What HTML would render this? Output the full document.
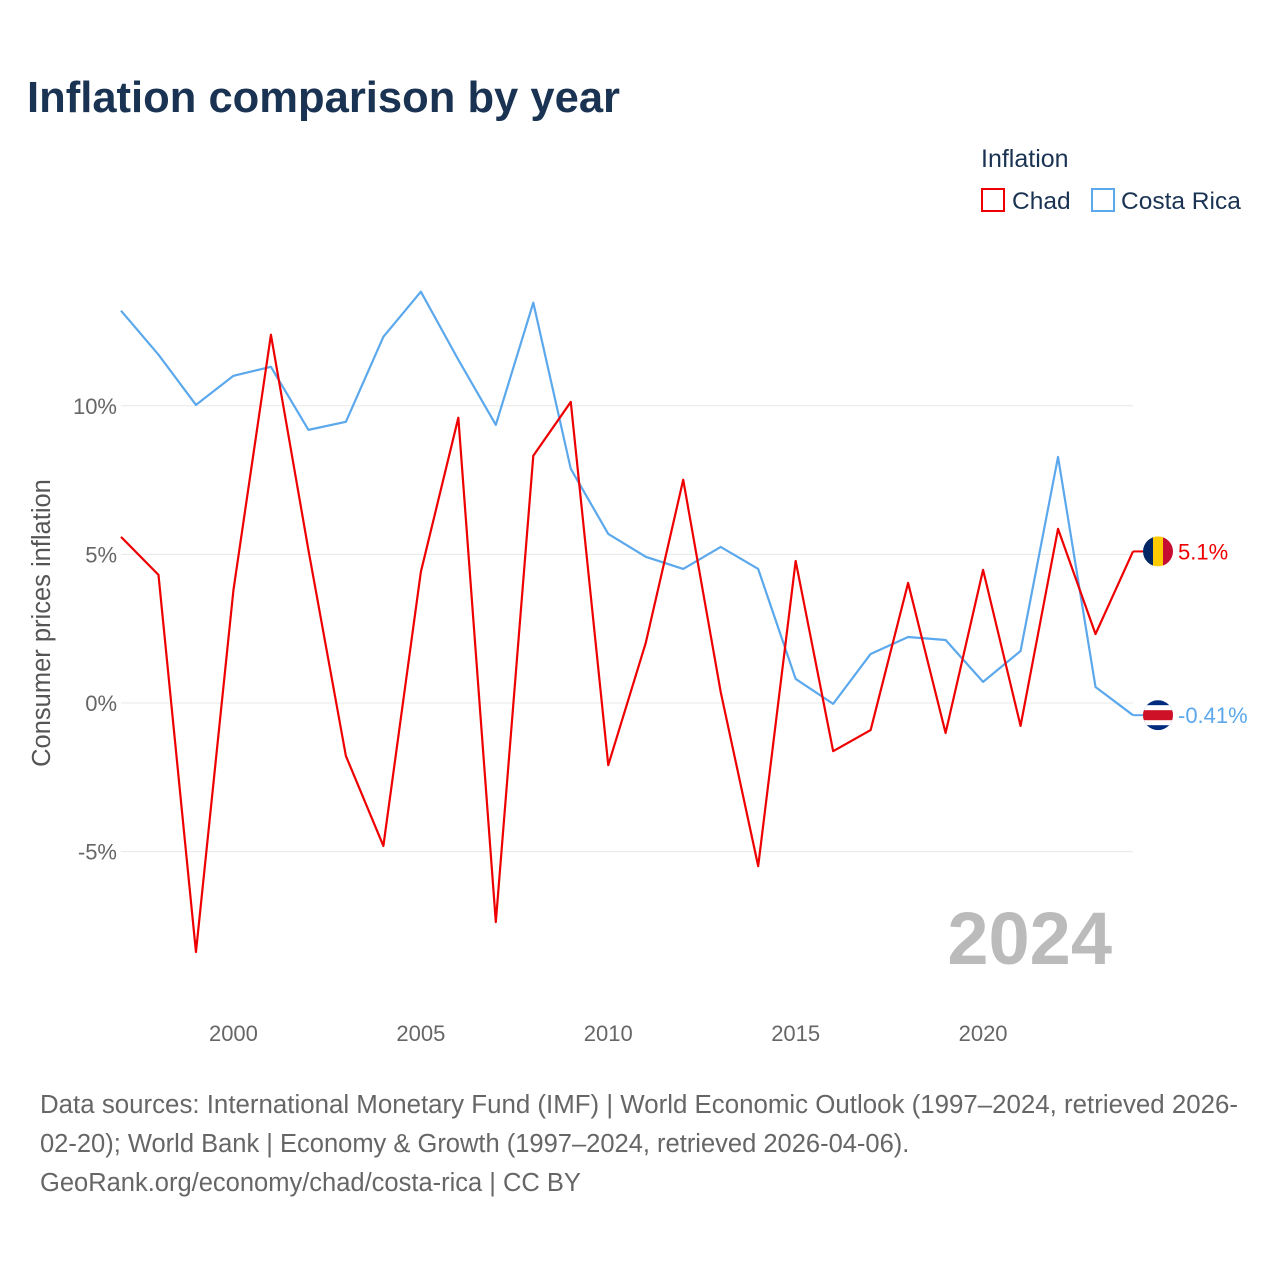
<!DOCTYPE html>
<html><head><meta charset="utf-8">
<style>
body{margin:0;background:#fff;font-family:"Liberation Sans",sans-serif;}
#wrap{position:relative;width:1280px;height:1280px;overflow:hidden;}
</style></head>
<body>
<div id="wrap">
<svg id="chart" width="1280" height="1280" xmlns="http://www.w3.org/2000/svg">
<text x="27" y="112" font-size="44" font-weight="bold" fill="#1a3353" textLength="593" lengthAdjust="spacingAndGlyphs">Inflation comparison by year</text>
<text x="981" y="167" font-size="25" fill="#1a3353">Inflation</text>
<g><rect x="982" y="189" width="22" height="22" fill="none" stroke="#ee0000" stroke-width="2"/><text x="1012" y="209" font-size="24.5" fill="#1a3353">Chad</text></g>
<g><rect x="1092" y="189" width="22" height="22" fill="none" stroke="#5ba8ec" stroke-width="2"/><text x="1121" y="209" font-size="24.5" fill="#1a3353">Costa Rica</text></g>
<text transform="translate(50,623) rotate(-90)" text-anchor="middle" font-size="25.5" fill="#555">Consumer prices inflation</text>
<g id="grid"></g><g id="yticks"></g><g id="xticks"></g>
<text x="1112" y="964" text-anchor="end" font-size="74" font-weight="bold" fill="#bbbbbb">2024</text>
<g id="lines"></g>
<text x="40" y="1113" font-size="25.5" fill="#666" textLength="1198" lengthAdjust="spacingAndGlyphs">Data sources: International Monetary Fund (IMF) | World Economic Outlook (1997–2024, retrieved 2026-</text>
<text x="40" y="1152" font-size="25.5" fill="#666">02-20); World Bank | Economy &amp; Growth (1997–2024, retrieved 2026-04-06).</text>
<text x="40" y="1191" font-size="25.5" fill="#666">GeoRank.org/economy/chad/costa-rica | CC BY</text>
</svg>
</div>
<script>
const years=[1997,1998,1999,2000,2001,2002,2003,2004,2005,2006,2007,2008,2009,2010,2011,2012,2013,2014,2015,2016,2017,2018,2019,2020,2021,2022,2023,2024];
const chad=[5.59,4.31,-8.38,3.8,12.39,5.15,-1.78,-4.81,4.41,9.6,-7.37,8.32,10.13,-2.09,2.02,7.51,0.37,-5.49,4.78,-1.62,-0.91,4.04,-1.01,4.48,-0.77,5.86,2.32,5.1];
const costaRica=[13.2,11.72,10.03,11.01,11.31,9.19,9.46,12.32,13.84,11.55,9.36,13.47,7.88,5.69,4.92,4.51,5.25,4.51,0.81,-0.03,1.65,2.22,2.12,0.71,1.75,8.28,0.54,-0.41];
const yTickVals=[-5,0,5,10];
const yTickLabels=["-5%","0%","5%","10%"];
const xTickVals=[2000,2005,2010,2015,2020];
const NS="http://www.w3.org/2000/svg";
const xS=y=>121+(y-1997)*(1133-121)/27;
const yS=v=>703-v*29.72;
function mk(tag,attrs,parent){const e=document.createElementNS(NS,tag);for(const k in attrs)e.setAttribute(k,attrs[k]);parent.appendChild(e);return e;}
const grid=document.getElementById('grid'),yt=document.getElementById('yticks'),xt=document.getElementById('xticks'),lines=document.getElementById('lines');
yTickVals.forEach((v,i)=>{
  const l=mk('line',{x1:121,x2:1133,y1:yS(v),y2:yS(v),stroke:'#e8e8e8','stroke-width':1},grid);
  
  
  const t=mk('text',{x:117,y:yS(v)+8,'text-anchor':'end','font-size':22,fill:'#666'},yt);
  t.textContent=yTickLabels[i];
  
  
});
xTickVals.forEach(v=>{
  const t=mk('text',{x:xS(v),y:1041,'text-anchor':'middle','font-size':22,fill:'#666'},xt);
  t.textContent=v;
  
  
});
function series(vals,color,name){
  const p=mk('polyline',{points:vals.map((v,i)=>xS(years[i])+','+yS(v)).join(' '),fill:'none',stroke:color,'stroke-width':2.2,'stroke-linejoin':'round'},lines);
  
  
}
series(costaRica,'#5ba8ec','costa-rica');
series(chad,'#ee0000','chad');
const lastC=chad[chad.length-1],lastR=costaRica[costaRica.length-1];
const fx=1158;
(function(){
  const g=mk('g',{},lines);
  
  
  const cy=yS(lastC);
  mk('line',{x1:1133,y1:cy,x2:1143,y2:cy,stroke:'#ee0000','stroke-width':2},g);
  const cp=mk('clipPath',{id:'cc'},g);mk('circle',{cx:fx,cy:cy,r:15},cp);
  const f=mk('g',{'clip-path':'url(#cc)'},g);
  mk('rect',{x:fx-15,y:cy-15,width:10,height:30,fill:'#002664'},f);
  mk('rect',{x:fx-5,y:cy-15,width:10,height:30,fill:'#fecb00'},f);
  mk('rect',{x:fx+5,y:cy-15,width:10,height:30,fill:'#c60c30'},f);
  const t=mk('text',{x:1178,y:cy+8,'font-size':22,fill:'#ee0000'},g);t.textContent=lastC+'%';
})();
(function(){
  const g=mk('g',{},lines);
  
  
  const cy=yS(lastR);
  mk('line',{x1:1133,y1:cy,x2:1143,y2:cy,stroke:'#5ba8ec','stroke-width':2},g);
  const cp=mk('clipPath',{id:'cr'},g);mk('circle',{cx:fx,cy:cy,r:15},cp);
  const f=mk('g',{'clip-path':'url(#cr)'},g);
  mk('rect',{x:fx-15,y:cy-15,width:30,height:30,fill:'#002b7f'},f);
  mk('rect',{x:fx-15,y:cy-10,width:30,height:20,fill:'#fff'},f);
  mk('rect',{x:fx-15,y:cy-5,width:30,height:10,fill:'#ce1126'},f);
  const t=mk('text',{x:1178,y:cy+8,'font-size':22,fill:'#5ba8ec'},g);t.textContent=lastR+'%';
})();
</script>
</body></html>
